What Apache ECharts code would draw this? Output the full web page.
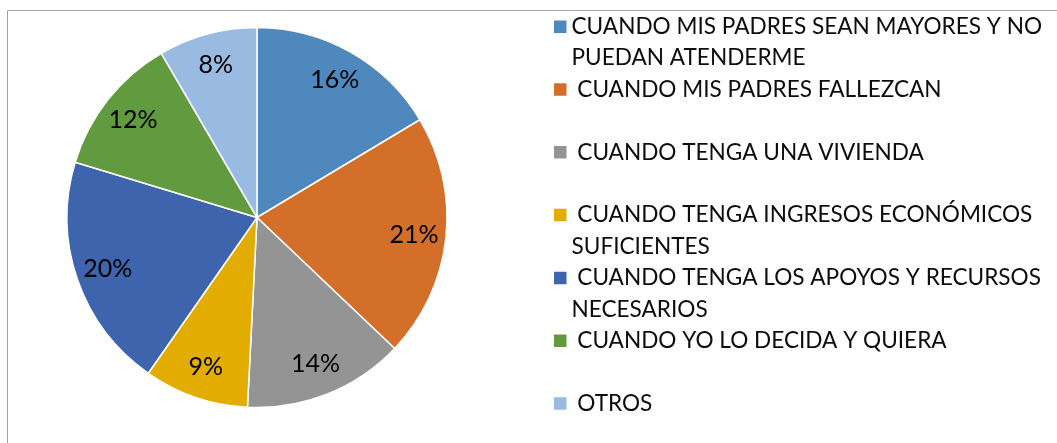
<!DOCTYPE html>
<html>
<head>
<meta charset="utf-8">
<script src="https://cdn.jsdelivr.net/npm/echarts@6/dist/echarts.min.js"></script>
<style>
  html, body { margin: 0; padding: 0; background: #fff; }
  #chart { width: 1057px; height: 443px; }
</style>
</head>
<body>
<div id="chart"></div>
<script>
// legend names (line breaks and leading spaces as in the original)
const categories = [
  "CUANDO MIS PADRES SEAN MAYORES Y NO\nPUEDAN ATENDERME",
  " CUANDO MIS PADRES FALLEZCAN",
  " CUANDO TENGA UNA VIVIENDA",
  " CUANDO TENGA INGRESOS ECONÓMICOS\nSUFICIENTES",
  " CUANDO TENGA LOS APOYOS Y RECURSOS\nNECESARIOS",
  " CUANDO YO LO DECIDA Y QUIERA",
  " OTROS"
];
// slice shares (labels round to 16/21/14/9/20/12/8 %)
const shares = [16.4, 20.7, 13.7, 8.9, 20.0, 11.9, 8.4];
const colors = ["#4e88bd", "#d46f2a", "#949494", "#e2ac00", "#3e64ad", "#629b3f", "#9abbe1"];

const FONT = "Lato";
const pieData = categories.map((name, i) => ({ name: name, value: shares[i] }));

const chart = echarts.init(document.getElementById("chart"));
chart.setOption({
  animation: false,
  color: colors,
  graphic: [{
    type: "rect",
    silent: true,
    z: -10,
    shape: { x: 7.5, y: 10.5, width: 1200, height: 600 },
    style: { fill: "none", stroke: "#a3a3a3", lineWidth: 1 }
  }],
  legend: {
    orient: "vertical",
    left: 554,
    top: 11,
    height: 470,
    padding: 0,
    itemGap: 0,
    itemWidth: 12.5,
    itemHeight: 62.8,
    // square sits next to the first text line
    icon: "path://M0,0L12.5,0M0,9.45L12.5,9.45L12.5,21.95L0,21.95ZM0,62.8L12.5,62.8",
    itemStyle: { borderWidth: 0 },
    selectedMode: false,
    data: categories,
    formatter: name => name.indexOf("\n") >= 0 ? name : name + "\n ",
    textStyle: { fontFamily: FONT, fontSize: 22.6, color: "#0d0d0d", lineHeight: 31.4 }
  },
  series: [
    {
      type: "pie",
      center: [257, 217.5],
      radius: 190,
      startAngle: 90,
      clockwise: true,
      avoidLabelOverlap: false,
      data: pieData,
      label: { show: false },
      labelLine: { show: false },
      itemStyle: { borderColor: "#fff", borderWidth: 1.5 },
      emphasis: { disabled: true }
    },
    {
      // invisible ring, only carries the percentage labels at ~0.8 R
      type: "pie",
      center: [257, 217.5],
      radius: [120, 190],
      startAngle: 90,
      clockwise: true,
      silent: true,
      percentPrecision: 0,
      avoidLabelOverlap: false,
      data: pieData,
      itemStyle: { color: "rgba(0,0,0,0)", borderWidth: 0 },
      labelLine: { show: false },
      label: {
        show: true,
        position: "inside",
        formatter: "{d}%",
        fontFamily: FONT,
        fontSize: 25,
        color: "#000"
      },
      emphasis: { disabled: true }
    }
  ]
});
</script>
</body>
</html>
